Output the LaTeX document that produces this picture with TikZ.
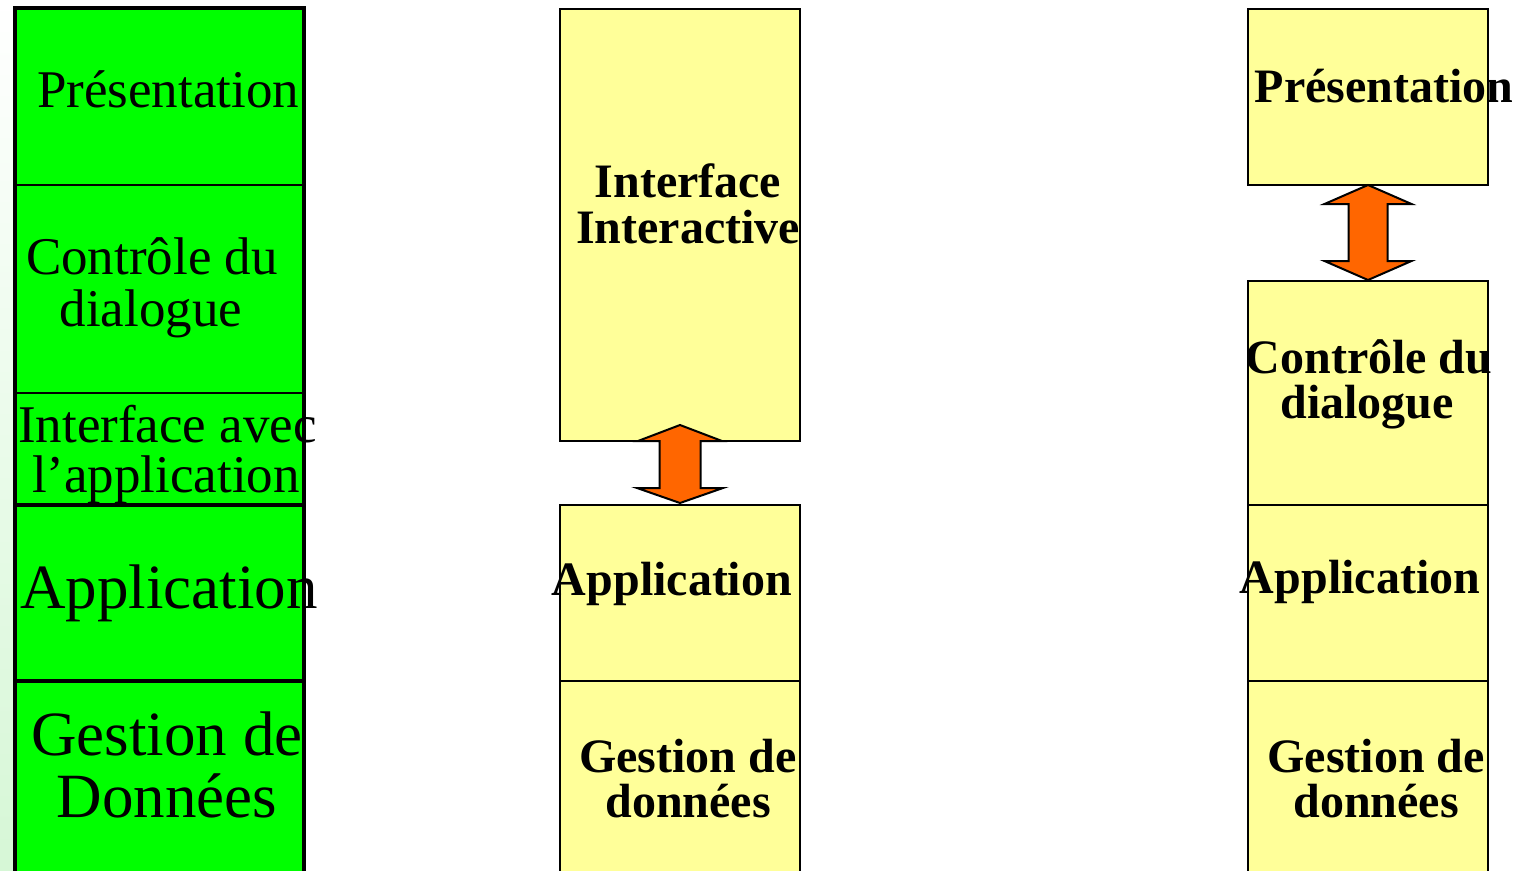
\documentclass[tikz,border=0pt]{standalone}
\usepackage{fontspec}
\setmainfont{Liberation Serif}
\usetikzlibrary{calc}

\definecolor{layergreen}{HTML}{00FF00}
\definecolor{layeryellow}{HTML}{FFFF99}
\definecolor{linkorange}{HTML}{FF6600}
\definecolor{edgegreen}{HTML}{D6F7D6}

\tikzset{
  greenbox/.style={draw=black, line width=2.5pt, fill=layergreen, rectangle,
    inner sep=0pt, outer sep=0pt, anchor=north west, minimum width=289pt},
  yellowbox/.style={draw=black, line width=2pt, fill=layeryellow, rectangle,
    inner sep=0pt, outer sep=0pt, anchor=north west, minimum width=240pt},
  plainlbl/.style={font=\fontsize{53}{53}\selectfont, anchor=base, inner sep=0pt},
  biglbl/.style={font=\fontsize{63}{63}\selectfont, anchor=base, inner sep=0pt},
  boldlbl/.style={font=\bfseries\fontsize{48}{48}\selectfont, anchor=base, inner sep=0pt},
  dblarrow/.style={draw=black, line width=2pt, fill=linkorange, line join=miter},
}

\begin{document}
\begin{tikzpicture}[x=1pt, y=-1pt]
  \useasboundingbox (0,0) rectangle (1515,870);
  \clip (0,0) rectangle (1515,870);
  \fill[white] (0,0) rectangle (1515,870);
  \shade[top color=white, bottom color=edgegreen] (0,0) rectangle (14,870);

  % --- left column: the five layers ---
  \node[greenbox, minimum height=177pt] (gpres) at (15,8) {};
  \node[greenbox, minimum height=208pt] (gctl) at (15,185) {};
  \node[greenbox, minimum height=112pt] (gif) at (15,393) {};
  \draw[line width=4pt] (gpres.north west) rectangle (gif.south east);
  \node[greenbox, line width=4pt, minimum height=176pt] (gapp) at (15,505) {};
  \node[greenbox, line width=4pt, minimum height=240pt] (gdata) at (15,681) {};

  \node[plainlbl] (tgpres) at (168,107) {Présentation};
  \node[plainlbl] (tgctla) at (152,274) {Contrôle du};
  \node[plainlbl] (tgctlb) at (151,326) {dialogue};
  \node[plainlbl] (tgifa) at (167.5,442) {Interface avec};
  \node[plainlbl] (tgifb) at (166,492) {l’application};
  \node[biglbl] (tgapp) at (169,608) {Application};
  \node[biglbl] (tgdataa) at (167,755) {Gestion de};
  \node[biglbl] (tgdatab) at (167,817) {Données};

  % --- middle column ---
  \node[yellowbox, minimum height=432pt] (mii) at (560,9) {};
  \node[yellowbox, minimum height=176pt] (mapp) at (560,505) {};
  \node[yellowbox, minimum height=240pt] (mdata) at (560,681) {};

  \draw[dblarrow] ($(mii.south)+(0,-16)$) -- ++(42,16) -- ++(-21.5,0) -- ++(0,47)
    -- ++(22.5,0) -- ($(mapp.north)+(0,-2)$) -- ++(-43,-15) -- ++(22.5,0)
    -- ++(0,-47) -- ++(-21.5,0) -- cycle;

  \node[boldlbl] (tmiia) at (688,197) {Interface};
  \node[boldlbl] (tmiib) at (688,243) {Interactive};
  \node[boldlbl] (tmapp) at (672,595) {Application};
  \node[boldlbl] (tmdataa) at (688,772) {Gestion de};
  \node[boldlbl] (tmdatab) at (688,817) {données};

  % --- right column ---
  \node[yellowbox, minimum height=176pt] (rpres) at (1248,9) {};
  \node[yellowbox, minimum height=224pt] (rctl) at (1248,281) {};
  \node[yellowbox, minimum height=176pt] (rapp) at (1248,505) {};
  \node[yellowbox, minimum height=240pt] (rdata) at (1248,681) {};

  \draw[dblarrow] (rpres.south) -- ++(43.5,19) -- ++(-24,0) -- ++(0,57)
    -- ++(24,0) -- ($(rctl.north)+(0,-1)$) -- ++(-43.5,-19) -- ++(24,0)
    -- ++(0,-57) -- ++(-24,0) -- cycle;

  \node[boldlbl] (trpres) at (1384,102) {Présentation};
  \node[boldlbl] (trctla) at (1369,373) {Contrôle du};
  \node[boldlbl] (trctlb) at (1367,418) {dialogue};
  \node[boldlbl] (trapp) at (1360,593) {Application};
  \node[boldlbl] (trdataa) at (1376,772) {Gestion de};
  \node[boldlbl] (trdatab) at (1376,817) {données};
\end{tikzpicture}
\end{document}
